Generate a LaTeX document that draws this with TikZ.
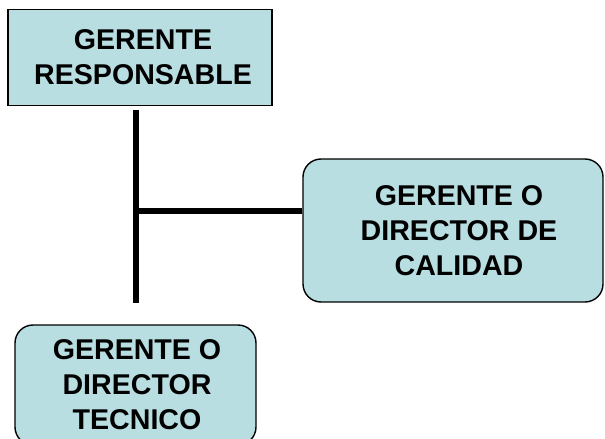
\documentclass[tikz,border=0pt]{standalone}
\usepackage{fontspec}
\setmainfont{Liberation Sans}
\definecolor{boxfill}{RGB}{184,222,226}
\tikzset{
  orgbox/.style={draw=black, line width=1.4pt, fill=boxfill, align=center,
    font=\fontsize{28.6}{35}\selectfont\bfseries, inner sep=0pt},
  link/.style={line width=6pt}
}
\begin{document}
\begin{tikzpicture}[x=1pt,y=-1pt]
\useasboundingbox (0,0) rectangle (605,439);
\clip (0,0) rectangle (605,439);
\node[orgbox, minimum width=264pt, minimum height=96pt] (top) at (140,57.5) {\hspace*{6pt}GERENTE\\\hspace*{6pt}RESPONSABLE};
\node[orgbox, rounded corners=18pt, minimum width=300pt, minimum height=143pt] (qual) at (453,230.5) {\hspace*{12pt}GERENTE O\\\hspace*{12pt}DIRECTOR DE\\\hspace*{12pt}CALIDAD};
\node[orgbox, rounded corners=18pt, minimum width=241pt, minimum height=120pt] (tech) at (135.5,385) {\hspace*{3pt}GERENTE O\\\hspace*{3pt}DIRECTOR\\\hspace*{3pt}TECNICO};
\coordinate (vtop) at (135.5,110);
\coordinate (vbot) at (135.5,303);
\coordinate (junc) at (135.5,210.5);
\draw[link] (vtop) -- (vbot);
\draw[link] (junc) -- (junc -| qual.west);
\end{tikzpicture}
\end{document}
